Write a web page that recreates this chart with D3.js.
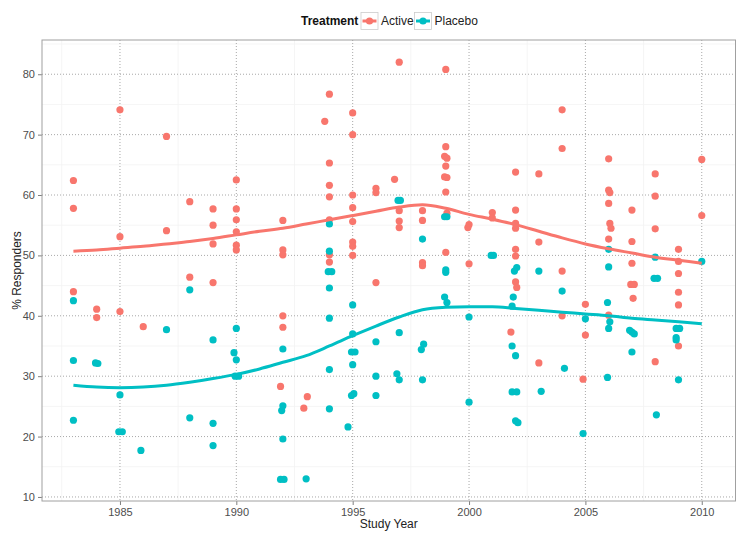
<!DOCTYPE html>
<html><head><meta charset="utf-8">
<script src="https://cdn.jsdelivr.net/npm/d3@7"></script>
<style>
html,body{margin:0;padding:0;background:#fff;}
svg{display:block;font-family:"Liberation Sans",Arial,sans-serif;}
</style></head>
<body>
<svg id="chart" width="750" height="539"></svg>
<script>
// ---- data ----
const activeYears = [
1983,1983,1983, 1984,1984, 1985,1985,1985, 1986, 1987,1987, 1988,1988,
1989,1989,1989,1989, 1990,1990,1990,1990,1990,1990,
1992,1992,1992,1992,1992,1991.9, 1993.05,1992.9,
1994,1993.8,1994,1994,1994,1994,1994,1994,
1995,1995,1995,1995,1995,1995,1995,1995,
1996,1996,1996, 1997,1996.8,1997,1997,1997,
1998,1998,1998,1998,
1999,1999,1998.95,1999.05,1999,1998.95,1999.05,1999,1999.05,1999,
2000,1999.95,2000, 2001,2001,
2002,2002,2002,2002,2002,2002,2002,2002.05,2001.8,
2003,2003,2003, 2004,2004,2004,2004, 2005,2005,2004.9,
2006,2006,2006.05,2006,2006.05,2006.1,2006,2006,
2007,2007,2007,2006.95,2007.1,2007.05,
2008,2008,2008,2008,
2009,2009,2009,2009,2009,2009, 2010,2010];
const activeValues = [
62.4,57.8,44.0, 41.1,39.7, 74.1,53.1,40.7, 38.2, 69.7,54.1, 58.9,46.4,
57.7,55.0,51.9,45.5, 62.5,57.7,55.9,53.9,51.7,50.9,
55.8,50.9,50.1,40.0,38.1,28.3, 26.6,24.7,
76.7,72.2,65.3,61.6,59.7,55.9,50.1,48.9,
73.6,70.0,60.0,57.9,55.6,52.2,51.5,50.0,
61.1,60.4,45.5, 82.0,62.6,57.4,55.7,54.6,
57.4,55.8,48.8,48.3,
80.8,68.0,66.4,66.1,64.8,63.0,62.9,60.5,57.0,50.5,
55.1,54.6,48.6, 57.1,56.2,
63.8,57.5,55.3,54.5,51.0,49.9,45.6,44.7,37.3,
63.5,52.2,32.2, 74.1,67.7,47.4,40.0, 41.9,36.8,29.5,
66.0,60.8,60.4,58.6,55.3,54.5,52.7,40.1,
57.5,52.3,48.7,45.2,45.2,42.9,
63.5,59.8,54.4,32.4,
51.0,49.0,47.0,43.9,41.8,35.0, 65.9,56.6];

const placeboYears = [
1983,1983,1983, 1983.95,1984.05, 1985,1984.95,1985.1, 1985.9, 1987, 1988,1988,
1989,1989,1989, 1990,1989.9,1990,1989.95,1990.1,
1992,1992,1991.95,1992,1991.9,1992.05, 1993,
1994,1994,1993.95,1994.1,1994,1994,1994,1994,
1995,1995,1994.95,1995.1,1995,1995.05,1994.95,1994.8,
1996,1996,1996, 1996.95,1997.05,1997,1996.9,1997,
1998,1998.05,1997.95,1998,
1998.95,1999.05,1999,1999,1998.95,1999.05,
2000,2000, 2000.95,2001.05,
2002.05,2001.95,2001.9,2001.85,2001.85,2002,2001.85,2002.05,2002,2002.1,
2003,2003.1, 2004,2004.1, 2005,2004.9,
2006,2006,2005.95,2006.05,2006,2005.95,
2006.9,2007,2007.1,2007,
2008,2007.95,2008.1,2008.05,
2008.9,2009.05,2008.9,2008.9,2009, 2010];
const placeboValues = [
42.5,32.6,22.7, 32.2,32.1, 26.9,20.8,20.8, 17.7, 37.7, 44.3,23.1,
36.0,22.2,18.5, 37.9,33.9,32.7,30.0,30.0,
34.5,25.1,24.3,19.6,12.9,12.9, 13.0,
55.2,50.7,47.3,47.3,44.6,39.6,31.1,24.6,
41.8,37.0,34.0,34.0,31.9,27.1,26.8,21.6,
35.7,30.0,26.8, 59.1,59.1,37.2,30.4,29.4,
52.7,35.3,34.4,29.4,
56.4,56.4,47.6,47.2,43.1,42.2,
39.8,25.7, 50.0,50.0,
48.0,47.4,43.1,41.6,35.0,33.4,27.4,27.4,22.6,22.3,
47.4,27.5, 44.1,31.3, 39.5,20.5,
51.0,48.1,42.2,39.0,37.9,29.8,
37.6,37.3,37.0,34.0,
49.7,46.2,46.2,23.6,
37.9,37.9,36.4,36.0,29.4, 49.0];

// smoothed trend lines
const smoothYears = [1983,1984,1985,1986,1987,1988,1989,1990,1991,1992,1993,1994,1995,1996,1997,1998,1999,2000,2001,2002,2003,2004,2005,2006,2007,2008,2009,2010];
const activeSmooth = [50.7,50.9,51.2,51.5,51.9,52.3,52.8,53.4,54.0,54.5,55.2,55.9,56.6,57.3,58.0,58.4,57.8,56.8,56.0,55.1,54.0,52.9,51.9,51.1,50.4,49.7,49.2,48.7];
const placeboSmooth = [28.5,28.2,28.1,28.2,28.5,29.0,29.6,30.3,31.2,32.3,33.4,35.0,36.7,38.3,39.8,41.0,41.4,41.5,41.5,41.2,40.9,40.6,40.3,40.0,39.6,39.3,39.0,38.7];

const xTicks = [1985,1990,1995,2000,2005,2010];
const yTicks = [10,20,30,40,50,60,70,80];
const xMinor = [1982.5,1987.5,1992.5,1997.5,2002.5,2007.5];
const yMinor = [15,25,35,45,55,65,75,85];
const groups = ["Active","Placebo"];
const colors = ["#F8766D","#00BFC4"];

// ---- layout ----
const svg = d3.select("#chart");
const L = 42, R = 735.5, T = 40, B = 501;
const x = d3.scaleLinear().domain([1981.65, 2011.45]).range([L, R]);
const y = d3.scaleLinear().domain([9.33, 85.67]).range([B, T]);

svg.append("rect").attr("x",0).attr("y",0).attr("width",750).attr("height",539).attr("fill","#fff");

// minor grid
svg.append("g").selectAll("line").data(xMinor).join("line")
  .attr("x1",d=>x(d)).attr("x2",d=>x(d)).attr("y1",T).attr("y2",B)
  .attr("stroke","#f2f2f2").attr("stroke-width",0.8);
svg.append("g").selectAll("line").data(yMinor).join("line")
  .attr("y1",d=>y(d)).attr("y2",d=>y(d)).attr("x1",L).attr("x2",R)
  .attr("stroke","#f2f2f2").attr("stroke-width",0.8);
// major grid
svg.append("g").selectAll("line").data(xTicks).join("line")
  .attr("x1",d=>x(d)).attr("x2",d=>x(d)).attr("y1",T).attr("y2",B)
  .attr("stroke","#a8a8a8").attr("stroke-width",1).attr("stroke-dasharray","1,2");
svg.append("g").selectAll("line").data(yTicks).join("line")
  .attr("y1",d=>y(d)).attr("y2",d=>y(d)).attr("x1",L).attr("x2",R)
  .attr("stroke","#a8a8a8").attr("stroke-width",1).attr("stroke-dasharray","1,2");

// axes
const xAxis = svg.append("g").attr("transform",`translate(0,${B})`)
  .call(d3.axisBottom(x).tickValues(xTicks).tickFormat(d3.format("d")).tickSize(4).tickPadding(3));
const yAxis = svg.append("g").attr("transform",`translate(${L},0)`)
  .call(d3.axisLeft(y).tickValues(yTicks).tickSize(4).tickPadding(3));
[xAxis,yAxis].forEach(a=>{
  a.select(".domain").remove();
  a.selectAll(".tick line").attr("stroke","#7f7f7f");
  a.selectAll(".tick text").attr("fill","#4d4d4d").style("font-size","11px")
   .style("font-family","'Liberation Sans',Arial,sans-serif");
});

// points
const series = [
  {name:"Active", xs:activeYears, vs:activeValues, sm:activeSmooth, color:colors[0]},
  {name:"Placebo", xs:placeboYears, vs:placeboValues, sm:placeboSmooth, color:colors[1]}
];
series.forEach(s=>{
  svg.append("g").selectAll("circle").data(s.xs.map((d,i)=>[d,s.vs[i]])).join("circle")
    .attr("cx",d=>x(d[0])).attr("cy",d=>y(d[1])).attr("r",3.6).attr("fill",s.color);
});
const line = d3.line().x(d=>x(d[0])).y(d=>y(d[1])).curve(d3.curveMonotoneX);
series.forEach(s=>{
  svg.append("path").datum(smoothYears.map((d,i)=>[d,s.sm[i]]))
    .attr("d",line).attr("fill","none").attr("stroke",s.color).attr("stroke-width",3)
    .attr("stroke-linecap","butt");
});

// panel border
svg.append("rect").attr("x",L).attr("y",T).attr("width",R-L).attr("height",B-T)
  .attr("fill","none").attr("stroke","#a0a0a0").attr("stroke-width",1);

// axis titles
svg.append("text").attr("x",(L+R)/2).attr("y",528).attr("text-anchor","middle")
  .style("font-size","12px").attr("fill","#222").text("Study Year");
svg.append("text").attr("transform",`translate(21,${(T+B)/2}) rotate(-90)`).attr("text-anchor","middle")
  .style("font-size","12px").attr("fill","#222").text("% Responders");

// legend
const lg = svg.append("g");
lg.append("text").attr("x",301).attr("y",25).style("font-size","12px").style("font-weight","bold")
  .attr("fill","#111").text("Treatment");
const keyX = [361, 414.5], textX = [381, 434.5];
groups.forEach((g,i)=>{
  lg.append("rect").attr("x",keyX[i]).attr("y",12.5).attr("width",17).attr("height",17)
    .attr("fill","#fff").attr("stroke","#cccccc").attr("stroke-width",0.8);
  lg.append("line").attr("x1",keyX[i]+1.5).attr("x2",keyX[i]+15.5).attr("y1",21).attr("y2",21)
    .attr("stroke",colors[i]).attr("stroke-width",3);
  lg.append("circle").attr("cx",keyX[i]+8.5).attr("cy",21).attr("r",3.6).attr("fill",colors[i]);
  lg.append("text").attr("x",textX[i]).attr("y",25).style("font-size","12px").attr("fill","#222").text(g);
});
</script>
</body></html>
